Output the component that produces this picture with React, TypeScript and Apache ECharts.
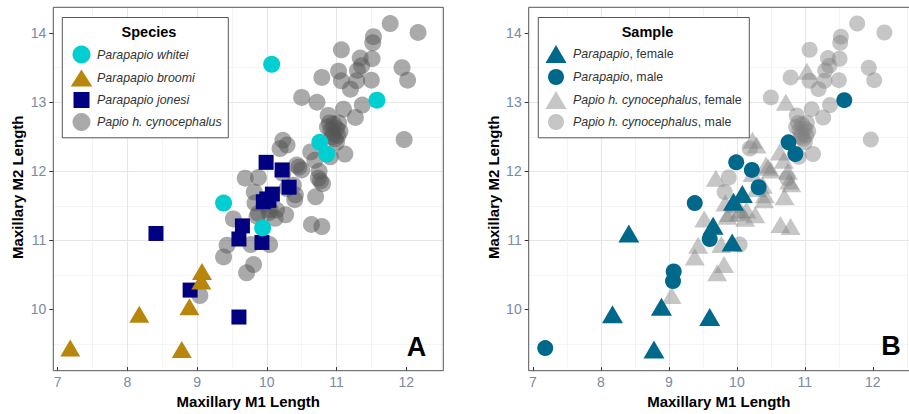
import React, { useEffect, useRef } from "react";
import * as echarts from "echarts";

type Pt = [number, number, string]; // M1 length, M2 length, sex ("F", "M", "" unknown)

const xTicks = [7, 8, 9, 10, 11, 12];
const yTicks = [10, 11, 12, 13, 14];

const whitei: Pt[] = [
  [10.07, 13.55, ""], [11.58, 13.03, "M"], [10.76, 12.42, "M"], [10.86, 12.25, "M"],
  [9.38, 11.54, "M"], [9.94, 11.18, ""],
];

const broomi: Pt[] = [
  [7.18, 9.44, "M"], [8.17, 9.93, "F"], [8.89, 10.04, "F"], [8.78, 9.42, "F"],
  [9.07, 10.55, "M"], [9.06, 10.41, "M"],
];

const jonesi: Pt[] = [
  [8.41, 11.1, "F"], [8.9, 10.28, ""], [9.6, 9.89, "F"], [9.65, 11.21, "F"],
  [9.6, 11.02, "M"], [9.93, 10.97, "F"], [9.95, 11.56, "F"], [10.0, 11.6, ""],
  [10.03, 11.58, ""], [10.08, 11.67, "F"], [9.99, 12.13, "M"], [10.22, 12.02, "M"],
  [10.32, 11.77, "M"],
];

const papio: Pt[] = [
  [11.77, 14.14, "M"], [12.17, 14.01, "M"], [11.53, 13.95, "M"], [11.52, 13.86, "M"],
  [11.07, 13.76, "M"], [11.34, 13.64, "M"], [11.51, 13.63, "M"], [11.36, 13.53, "M"],
  [11.3, 13.46, "M"], [11.94, 13.5, "M"], [12.02, 13.32, "M"], [10.79, 13.36, "M"],
  [11.07, 13.31, "M"], [11.29, 13.31, "M"], [11.5, 13.32, "M"], [11.2, 13.19, "M"],
  [10.5, 13.07, "M"], [11.37, 12.96, "M"], [11.1, 12.9, "M"], [11.27, 12.78, "M"],
  [10.88, 12.81, "M"], [11.97, 12.46, "M"], [11.12, 12.25, "M"], [10.91, 12.21, "M"],
  [10.87, 12.64, "M"], [10.92, 12.6, "M"], [10.96, 12.68, "M"], [11.0, 12.62, "M"],
  [10.95, 12.55, "M"], [11.02, 12.52, "M"], [10.98, 12.47, "M"], [11.05, 12.58, "M"],
  [10.9, 12.7, "M"], [11.03, 12.7, "M"], [10.94, 12.5, "M"], [11.0, 12.42, "M"],
  [10.74, 11.9, "M"], [9.88, 11.91, "M"], [9.82, 11.7, "M"], [10.04, 10.94, "M"],
  [10.19, 12.33, "M"],
  [11.03, 13.45, "F"], [10.72, 13.0, "F"], [10.23, 12.45, "F"], [10.29, 12.38, "F"],
  [10.63, 12.28, "F"], [10.69, 12.16, "F"], [10.46, 12.06, "F"], [10.75, 12.0, "F"],
  [10.77, 11.86, "F"], [10.8, 11.82, "F"], [10.38, 11.8, "F"], [10.29, 11.75, "F"],
  [10.41, 11.66, "F"], [10.4, 11.59, "F"], [10.7, 11.63, "F"], [9.69, 11.9, "F"],
  [9.83, 11.54, "F"], [9.98, 11.52, "F"], [10.05, 11.44, "F"], [10.14, 11.44, "F"],
  [10.03, 11.4, "F"], [9.88, 11.39, "F"], [9.86, 11.35, "F"], [10.12, 11.32, "F"],
  [10.27, 11.37, "F"], [9.52, 11.31, "F"], [10.64, 11.23, "F"], [10.79, 11.2, "F"],
  [9.43, 10.93, "F"], [9.38, 10.76, "F"], [9.77, 10.94, "F"], [9.81, 10.65, "F"],
  [9.71, 10.53, "F"], [9.04, 10.2, "F"], [10.5, 12.02, "F"], [10.43, 12.09, "F"],
  [10.23, 11.97, "F"],
];

const FONT = "'Liberation Sans', Arial, Helvetica, sans-serif";
const X_MIN = 6.937;
const X_MAX = 12.532;
const Y_MIN = 9.165;
const Y_MAX = 14.375;

const CYAN = "#00CED1";
const GOLD = "#B8860B";
const NAVY = "#000080";
const TEAL = "#00688B";
const LEG_FS = 12.4;

const GRID_A = { left: 53.3, top: 7.3, width: 390, height: 363.4 };
const GRID_B = { left: 528.7, top: 7.3, width: 390, height: 363.4 };

const xy = (arr: Pt[]) => arr.map((p) => [p[0], p[1]]);
const bySex = (arr: Pt[], s: string) => arr.filter((p) => p[2] === s);

function xAxisFor(i: number) {
  return {
    type: "value",
    gridIndex: i,
    min: X_MIN,
    max: X_MAX,
    name: "Maxillary M1 Length",
    nameLocation: "middle",
    nameGap: 26,
    nameTextStyle: { fontFamily: FONT, fontWeight: "bold", fontSize: 15, color: "#000" },
    axisLine: { show: false },
    axisTick: { show: true, length: 4, lineStyle: { color: "#333", width: 1 }, customValues: xTicks },
    axisLabel: { customValues: xTicks, fontSize: 14, color: "#7a8aa3", margin: 8, fontFamily: FONT },
    splitLine: { show: true, showMinLine: false, showMaxLine: false, lineStyle: { color: "#e6e6e6", width: 1.1 } },
    minorTick: { show: false, splitNumber: 2 },
    minorSplitLine: { show: true, lineStyle: { color: "#f1f1f1", width: 0.8 } },
  };
}

function yAxisFor(i: number) {
  return {
    type: "value",
    gridIndex: i,
    min: Y_MIN,
    max: Y_MAX,
    name: "Maxillary M2 Length",
    nameLocation: "middle",
    nameGap: 28,
    nameRotate: 90,
    nameTextStyle: { fontFamily: FONT, fontWeight: "bold", fontSize: 15, color: "#000" },
    axisLine: { show: false },
    axisTick: { show: true, length: 4, lineStyle: { color: "#333", width: 1 }, customValues: yTicks },
    axisLabel: { customValues: yTicks, fontSize: 14, color: "#7a8aa3", margin: 7, fontFamily: FONT },
    splitLine: { show: true, showMinLine: false, showMaxLine: false, lineStyle: { color: "#e6e6e6", width: 1.1 } },
    minorTick: { show: false, splitNumber: 2 },
    minorSplitLine: { show: true, lineStyle: { color: "#f1f1f1", width: 0.8 } },
  };
}

function tri(cx: number, cy: number, w: number, h: number) {
  return [
    [cx - w / 2, cy + h / 2],
    [cx + w / 2, cy + h / 2],
    [cx, cy - h / 2],
  ];
}

const txt = (x: number, y: number, text: string, extra: any = {}) => ({
  type: "text",
  z: 6,
  style: {
    x,
    y,
    text,
    fill: "#333",
    fontFamily: FONT,
    fontSize: LEG_FS,
    fontStyle: "italic",
    align: "left",
    verticalAlign: "middle",
    ...extra,
  },
});

export default function App() {
  const ref = useRef<HTMLDivElement>(null);

  useEffect(() => {
    if (!ref.current) return;
    const chart = echarts.init(ref.current, undefined, { renderer: "svg" });

    const richB = {
      i: { fontStyle: "italic", fontSize: LEG_FS, fontFamily: FONT, fill: "#333", color: "#333" },
      n: { fontStyle: "normal", fontSize: LEG_FS, fontFamily: FONT, fill: "#333", color: "#333" },
    };

    const graphic: any[] = [
      // panel borders
      { type: "rect", z: 10, silent: true, shape: { x: GRID_A.left, y: GRID_A.top, width: GRID_A.width, height: GRID_A.height }, style: { fill: "none", stroke: "#555", lineWidth: 1 } },
      { type: "rect", z: 10, silent: true, shape: { x: GRID_B.left, y: GRID_B.top, width: GRID_B.width, height: GRID_B.height }, style: { fill: "none", stroke: "#555", lineWidth: 1 } },
      // legend A
      { type: "rect", z: 5, shape: { x: 62.3, y: 17.5, width: 166, height: 120.3 }, style: { fill: "#fff", stroke: "#555", lineWidth: 1 } },
      txt(149, 32, "Species", { fontStyle: "normal", fontWeight: "bold", fontSize: 14.5, fill: "#000", align: "center" }),
      { type: "circle", z: 6, shape: { cx: 81.5, cy: 54.5, r: 9 }, style: { fill: CYAN } },
      { type: "polygon", z: 6, shape: { points: tri(81.5, 78, 21.5, 17) }, style: { fill: GOLD } },
      { type: "rect", z: 6, shape: { x: 73.5, y: 92, width: 16, height: 16 }, style: { fill: NAVY } },
      { type: "circle", z: 6, shape: { cx: 81.5, cy: 122, r: 9 }, style: { fill: "#555", opacity: 0.5 } },
      txt(97, 55, "Parapapio whitei"),
      txt(97, 77.5, "Parapapio broomi"),
      txt(97, 100, "Parapapio jonesi"),
      txt(97, 122, "Papio h. cynocephalus"),
      // legend B
      { type: "rect", z: 5, shape: { x: 538.3, y: 17.5, width: 211, height: 120.3 }, style: { fill: "#fff", stroke: "#555", lineWidth: 1 } },
      txt(647.5, 32, "Sample", { fontStyle: "normal", fontWeight: "bold", fontSize: 14.5, fill: "#000", align: "center" }),
      { type: "polygon", z: 6, shape: { points: tri(556, 54, 21, 18) }, style: { fill: TEAL } },
      { type: "circle", z: 6, shape: { cx: 556, cy: 77, r: 8 }, style: { fill: TEAL } },
      { type: "polygon", z: 6, shape: { points: tri(556, 100, 21, 18) }, style: { fill: "rgb(128,128,128)", opacity: 0.45 } },
      { type: "circle", z: 6, shape: { cx: 556, cy: 122, r: 8 }, style: { fill: "rgb(128,128,128)", opacity: 0.45 } },
      txt(573, 54, "{i|Parapapio}{n|, female}", { rich: richB }),
      txt(573, 77, "{i|Parapapio}{n|, male}", { rich: richB }),
      txt(573, 99.5, "{i|Papio h. cynocephalus}{n|, female}", { rich: richB }),
      txt(573, 122, "{i|Papio h. cynocephalus}{n|, male}", { rich: richB }),
      // panel letters
      txt(416.5, 347, "A", { fontStyle: "normal", fontWeight: "bold", fontSize: 27, fill: "#000", align: "center" }),
      txt(891, 346, "B", { fontStyle: "normal", fontWeight: "bold", fontSize: 27, fill: "#000", align: "center" }),
    ];

    const parapapio = [...whitei, ...broomi, ...jonesi];

    const option: any = {
      animation: false,
      backgroundColor: "#fff",
      textStyle: { fontFamily: FONT },
      grid: [
        { ...GRID_A, show: false, containLabel: false },
        { ...GRID_B, show: false, containLabel: false },
      ],
      xAxis: [xAxisFor(0), xAxisFor(1)],
      yAxis: [yAxisFor(0), yAxisFor(1)],
      graphic,
      series: [
        // Panel A
        { name: "Papio h. cynocephalus", type: "scatter", xAxisIndex: 0, yAxisIndex: 0, symbol: "circle", symbolSize: 17, data: xy(papio), itemStyle: { color: "#555", opacity: 0.5 } },
        { name: "Parapapio jonesi", type: "scatter", xAxisIndex: 0, yAxisIndex: 0, symbol: "rect", symbolSize: 15, data: xy(jonesi), itemStyle: { color: NAVY, opacity: 1 } },
        { name: "Parapapio broomi", type: "scatter", xAxisIndex: 0, yAxisIndex: 0, symbol: "triangle", symbolSize: [20, 17], data: xy(broomi), itemStyle: { color: GOLD, opacity: 1 } },
        { name: "Parapapio whitei", type: "scatter", xAxisIndex: 0, yAxisIndex: 0, symbol: "circle", symbolSize: 17, data: xy(whitei), itemStyle: { color: CYAN, opacity: 1 } },
        // Panel B
        { name: "Papio h. cynocephalus, female", type: "scatter", xAxisIndex: 1, yAxisIndex: 1, symbol: "triangle", symbolSize: [20, 17], data: xy(bySex(papio, "F")), itemStyle: { color: "rgb(128,128,128)", opacity: 0.45 } },
        { name: "Papio h. cynocephalus, male", type: "scatter", xAxisIndex: 1, yAxisIndex: 1, symbol: "circle", symbolSize: 16, data: xy(bySex(papio, "M")), itemStyle: { color: "rgb(128,128,128)", opacity: 0.45 } },
        { name: "Parapapio, female", type: "scatter", xAxisIndex: 1, yAxisIndex: 1, symbol: "triangle", symbolSize: [21, 18], data: xy(bySex(parapapio, "F")), itemStyle: { color: TEAL, opacity: 1 } },
        { name: "Parapapio, male", type: "scatter", xAxisIndex: 1, yAxisIndex: 1, symbol: "circle", symbolSize: 16, data: xy(bySex(parapapio, "M")), itemStyle: { color: TEAL, opacity: 1 } },
      ],
    };

    chart.setOption(option);
    return () => chart.dispose();
  }, []);

  return (
    <div
      ref={ref}
      style={{ position: "fixed", left: 0, top: 0, width: 909, height: 414, background: "#fff" }}
    />
  );
}
